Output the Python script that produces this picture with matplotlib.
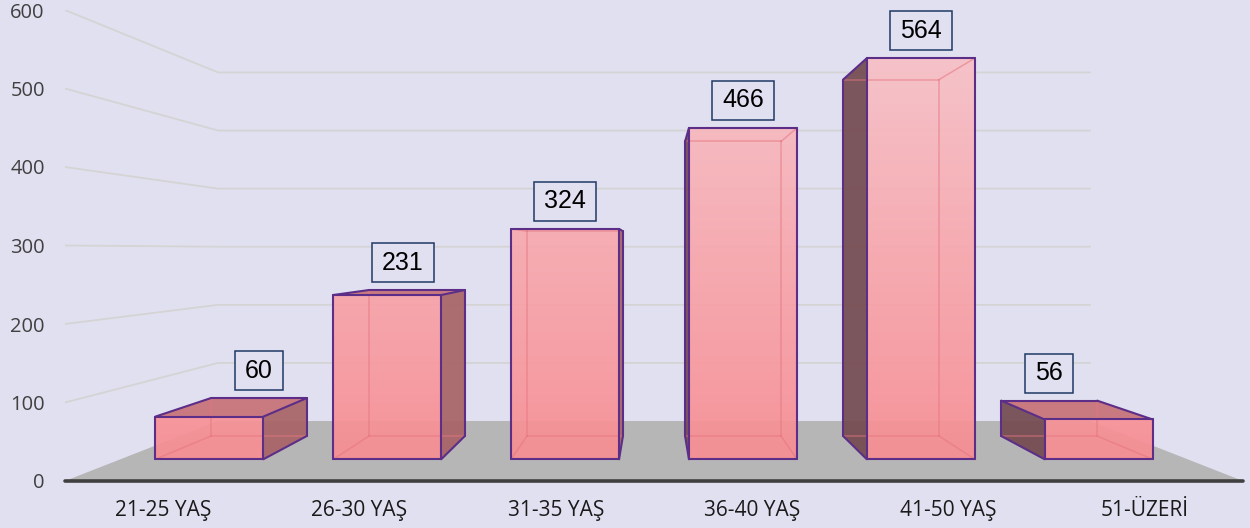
import matplotlib
matplotlib.use("Agg")
import matplotlib.pyplot as plt
import numpy as np
from matplotlib.patches import Polygon, Rectangle

# ---------------- data ----------------
categories = ["21-25 YAŞ", "26-30 YAŞ", "31-35 YAŞ", "36-40 YAŞ", "41-50 YAŞ", "51-ÜZERİ"]
values = [60, 231, 324, 466, 564, 56]
y_ticks = [0, 100, 200, 300, 400, 500, 600]

# ---------------- style / layout ----------------
W, H = 1250, 528
BG = "#E1E0F1"
FLOOR = "#B6B6B6"
GRID = "#D4D4D4"
EDGE = "#5C2E88"
HIDDEN = (0.90, 0.46, 0.50)
RIGHT_SIDE = "#A86366"
LEFT_SIDE = "#744A50"
TOP_FACE = "#C77276"
FRONT_LO = np.array([248, 138, 143]) / 255
FRONT_HI = np.array([247, 198, 204]) / 255
LABEL_EDGE = "#1F3864"

fig = plt.figure(figsize=(W / 100, H / 100), dpi=100)
fig.patch.set_facecolor(BG)
ax = fig.add_axes([65 / W, 1 - 481 / H, (1243 - 65) / W, (481 - 10) / H])
xmin, xmax = -0.5, len(categories) - 0.5
ymin, ymax = y_ticks[0], y_ticks[-1]
ax.set_xlim(xmin, xmax)
ax.set_ylim(ymin, ymax)
ax.set_facecolor("none")
for sp in ax.spines.values():
    sp.set_visible(False)

# perspective (one-point) in data space
VX = (len(categories) - 1) / 2.0   # vanishing x (centre of the categories)
HZ = 294.0                          # horizon, in value units of the front plane
FLOOR_D = 0.351
BAR_D0, BAR_D1 = 0.104, 0.242
BAR_W = 0.607


def proj(x, v, d):
    s = 1.0 / (1.0 + d)
    return (VX + s * (x - VX), HZ + s * (v - HZ))


# ---------------- floor and grid ----------------
floor = [proj(xmin, 0, 0), proj(xmax, 0, 0), proj(xmax, 0, FLOOR_D), proj(xmin, 0, FLOOR_D)]
ax.add_patch(Polygon(floor, closed=True, facecolor=FLOOR, edgecolor="none", zorder=1))
for v in y_ticks[1:]:
    pts = [proj(xmin, v, 0), proj(xmin, v, FLOOR_D), proj(xmax, v, FLOOR_D)]
    ax.plot([p[0] for p in pts], [p[1] for p in pts], color=GRID, lw=1.3, zorder=0.5,
            solid_joinstyle="miter")
ax.plot([xmin, xmax], [0, 0], color="#404040", lw=2.6, solid_capstyle="round",
        zorder=2, clip_on=False)

# gradient image for front faces
grad = np.linspace(0, 1, 300)[:, None, None]
grad_img = FRONT_LO[None, None, :] * (1 - grad) + FRONT_HI[None, None, :] * grad

# ---------------- bars ----------------
label_info = []
for i, v in enumerate(values):
    x0, x1 = i - BAR_W / 2, i + BAR_W / 2
    C = {}
    for xn, xx in (("L", x0), ("R", x1)):
        for yn, yy in (("B", 0), ("T", v)):
            for dn, dd in (("F", BAR_D0), ("K", BAR_D1)):
                C[xn + yn + dn] = proj(xx, yy, dd)
    faces = {
        "front": ["LBF", "RBF", "RTF", "LTF"],
        "back": ["LBK", "RBK", "RTK", "LTK"],
        "left": ["LBF", "LBK", "LTK", "LTF"],
        "right": ["RBF", "RBK", "RTK", "RTF"],
        "top": ["LTF", "RTF", "RTK", "LTK"],
        "bottom": ["LBF", "RBF", "RBK", "LBK"],
    }
    visible = ["front"]
    if x1 < VX:
        visible.append("right")
    elif x0 > VX:
        visible.append("left")
    if v < HZ:
        visible.append("top")

    def face_edges(f):
        k = faces[f]
        return {tuple(sorted((k[j], k[(j + 1) % 4]))) for j in range(4)}

    all_edges = set()
    for f in faces:
        all_edges |= face_edges(f)
    vis_edges = set()
    for f in visible:
        vis_edges |= face_edges(f)
    hid_edges = all_edges - vis_edges

    z = 3 + i * 0.01
    # side / top faces
    if "right" in visible:
        ax.add_patch(Polygon([C[k] for k in faces["right"]], closed=True,
                             facecolor=RIGHT_SIDE, alpha=0.92, edgecolor="none", zorder=z))
    if "left" in visible:
        ax.add_patch(Polygon([C[k] for k in faces["left"]], closed=True,
                             facecolor=LEFT_SIDE, alpha=0.92, edgecolor="none", zorder=z))
    if "top" in visible:
        ax.add_patch(Polygon([C[k] for k in faces["top"]], closed=True,
                             facecolor=TOP_FACE, alpha=0.92, edgecolor="none", zorder=z))
    # front face with vertical gradient
    fp = Polygon([C[k] for k in faces["front"]], closed=True, transform=ax.transData)
    im = ax.imshow(grad_img, extent=(xmin, xmax, ymin, ymax), origin="lower",
                   aspect="auto", alpha=0.92, zorder=z + 0.001, interpolation="bilinear")
    im.set_clip_path(fp)
    # hidden edges
    for a, b in hid_edges:
        ax.plot([C[a][0], C[b][0]], [C[a][1], C[b][1]], color=HIDDEN, alpha=0.55,
                lw=1.1, zorder=z + 0.002)
    # visible edges
    for a, b in vis_edges:
        ax.plot([C[a][0], C[b][0]], [C[a][1], C[b][1]], color=EDGE, lw=1.5,
                solid_capstyle="round", zorder=z + 0.003)

    # label anchor
    t = float(np.clip((HZ - v) / 126.0, 0, 1))
    da = BAR_D0 + t * (BAR_D1 - BAR_D0)
    ax_x, _ = proj(i, v, da)
    top_v = max(proj(i, v, BAR_D0)[1], proj(i, v, BAR_D1)[1])
    label_info.append((ax_x, top_v, v))

# ---------------- ticks ----------------
ax.set_yticks(y_ticks)
ax.set_yticklabels([str(t) for t in y_ticks], fontsize=14.5, color="#404040",
                   family="Open Sans")
ax.set_xticks(range(len(categories)))
ax.set_xticklabels(categories, fontsize=15, color="#1A1A1A", family="Open Sans")
ax.tick_params(axis="y", length=0, pad=14.5)
ax.tick_params(axis="x", length=0, pad=14)

# ---------------- data labels ----------------
renderer = fig.canvas.get_renderer()
for lx, lv, v in label_info:
    px, py = ax.transData.transform((lx, lv))
    box_h = 39
    cy = py + 8 + box_h / 2
    txt = fig.text(px / W, cy / H, str(v), ha="center", va="center",
                   fontsize=18, family="Liberation Sans", color="black", zorder=11)
    tw = txt.get_window_extent(renderer).width
    bw = tw + 20
    fig.add_artist(Rectangle(((px - bw / 2) / W, (py + 8) / H), bw / W, box_h / H,
                             transform=fig.transFigure, facecolor=BG,
                             edgecolor=LABEL_EDGE, lw=1.1, zorder=10))

fig.savefig("out.png", dpi=100, facecolor=BG)
